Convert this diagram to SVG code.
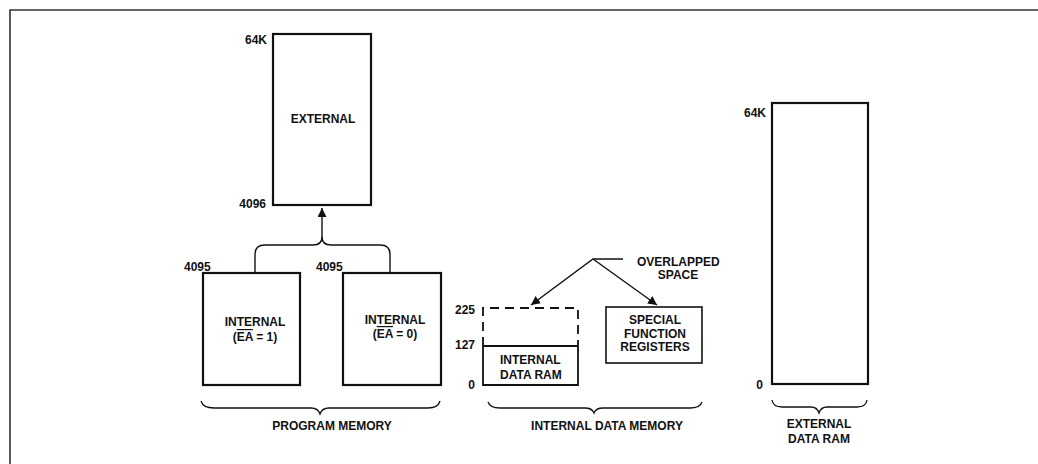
<svg xmlns="http://www.w3.org/2000/svg" width="1038" height="464" viewBox="0 0 1038 464">
<defs>
<style>
text{font-family:"Liberation Sans",Arial,sans-serif;font-weight:bold;font-size:12px;fill:#111}
.box{fill:none;stroke:#111;stroke-width:2.2}
.thin{fill:none;stroke:#111;stroke-width:1.4}
.dash{fill:none;stroke:#111;stroke-width:1.8;stroke-dasharray:9 6}
.brace{fill:none;stroke:#111;stroke-width:1.3}
.c{text-anchor:middle}
.r{text-anchor:end}
</style>
<marker id="ah" viewBox="0 0 10 10" refX="10" refY="5" markerWidth="9" markerHeight="9" markerUnits="userSpaceOnUse" orient="auto">
<path d="M0,0 L10,5 L0,10 z" fill="#111"/>
</marker>
</defs>
<rect width="1038" height="464" fill="#fff"/>
<g id="frame">
<path d="M10,464 V10 H1038" fill="none" stroke="#333" stroke-width="1.6"/>
</g>
<g id="external-program">
<rect class="box" x="273" y="34" width="98" height="171"/>
<text class="r" x="267" y="44">64K</text>
<text class="c" x="323" y="123">EXTERNAL</text>
<text class="r" x="266" y="208">4096</text>
</g>
<g id="internal-ea1">
<rect class="box" x="203" y="273" width="97" height="112"/>
<text x="184" y="271">4095</text>
<text class="c" x="255" y="326">INTERNAL</text>
<text class="c" x="255" y="341">(<tspan text-decoration="overline">EA</tspan> = 1)</text>
</g>
<g id="internal-ea0">
<rect class="box" x="343" y="273" width="98" height="112"/>
<text x="316" y="271">4095</text>
<text class="c" x="395" y="324">INTERNAL</text>
<text class="c" x="395" y="338">(<tspan text-decoration="overline">EA</tspan> = 0)</text>
</g>
<g id="internal-data-ram">
<path class="dash" d="M483,346 V308 H578 V346"/>
<path class="thin" d="M483,346 H578 M483,346 V385 H578 V346" style="stroke-width:1.8"/>
<text class="r" x="475" y="314">225</text>
<text class="r" x="475" y="349">127</text>
<text class="r" x="475" y="389">0</text>
<text x="500" y="364">INTERNAL</text>
<text x="500" y="379">DATA RAM</text>
</g>
<g id="sfr">
<rect class="thin" x="606" y="307" width="96" height="56" style="stroke-width:1.6"/>
<text class="c" x="655" y="324">SPECIAL</text>
<text class="c" x="655" y="338">FUNCTION</text>
<text class="c" x="655" y="351">REGISTERS</text>
</g>
<g id="overlapped-label">
<text x="637" y="266">OVERLAPPED</text>
<text class="c" x="678" y="279">SPACE</text>
</g>
<g id="external-data-ram">
<rect class="box" x="772" y="103" width="96" height="281"/>
<text class="r" x="766" y="117">64K</text>
<text class="r" x="763" y="389">0</text>
</g>
<g id="connectors">
<path class="thin" d="M255,273 V254 Q255,245 265,245 H313 Q322,245 322,237 V208" marker-end="url(#ah)"/>
<path class="thin" d="M390,273 V254 Q390,245 380,245 H331 Q322,245 322,237"/>
<path class="thin" d="M623,259 H593 L531,305" marker-end="url(#ah)"/>
<path class="thin" d="M593,259 L657,305" marker-end="url(#ah)"/>
</g>
<g id="braces">
<path class="brace" d="M201,401 Q203,408 214,408 H311 Q318,408 320,414 Q322,408 329,408 H428 Q438,408 440,401"/>
<path class="brace" d="M488,402 Q490,408 500,408 H585 Q592,408 594,413 Q596,408 603,408 H690 Q700,408 702,402"/>
<path class="brace" d="M772,400 Q773,407 782,407 H811 Q817,407 819,413 Q821,407 827,407 H857 Q866,407 867,400"/>
<text class="c" x="332" y="430">PROGRAM MEMORY</text>
<text class="c" x="607" y="430">INTERNAL DATA MEMORY</text>
<text class="c" x="819" y="428">EXTERNAL</text>
<text class="c" x="819" y="443">DATA RAM</text>
</g>
</svg>
